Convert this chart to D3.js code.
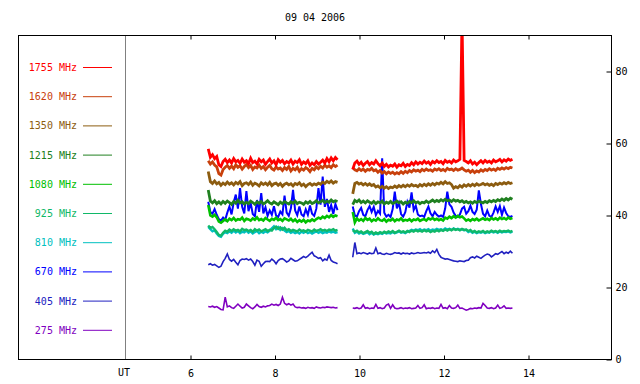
<!DOCTYPE html>
<html><head><meta charset="utf-8">
<script src="https://cdn.jsdelivr.net/npm/d3@7"></script>
<style>body{margin:0;background:#fff}svg{display:block}text{font-family:"DejaVu Sans Mono",monospace;font-size:10px}</style>
</head><body><svg id="c" width="640" height="384"></svg>
<script>
const title = "09 04 2006";
const freqLabels = ["1755 MHz","1620 MHz","1350 MHz","1215 MHz","1080 MHz","925 MHz","810 MHz","670 MHz","405 MHz","275 MHz"];
const colors = ["#ff0000","#c8400c","#8c5c10","#208020","#00c000","#10b868","#00c0c0","#0000ff","#2020c0","#8000c0"];
const xTicks = [6,8,10,12,14];
const yTicks = [0,20,40,60,80];
const seg1 = [6.42, 9.48];
const seg2 = [9.84, 13.62];

// segment 1 values
const f1755_a = [58.5,56.2,56.9,55.8,56.4,54.1,53.6,55.0,55.6,54.7,55.4,54.6,55.8,54.9,55.3,54.5,55.7,54.8,55.2,54.4,55.9,54.7,55.1,54.3,55.6,54.9,55.4,54.2,55.0,55.7,54.6,55.2,54.1,55.5,54.8,55.3,54.4,55.0,54.6,55.4,54.3,55.1,54.7,55.5,54.2,54.9,54.4,55.2,53.9,54.6,54.1,55.0,54.3,54.8,55.4,54.6,55.8,54.9,56.0,55.2,56.1,55.5];
const f1620_a = [55.2,54.3,54.9,54.0,53.5,51.6,51.2,52.8,53.4,53.9,53.1,53.7,53.0,54.1,53.4,53.8,52.9,53.6,54.2,53.3,53.9,52.8,53.5,53.2,54.0,53.1,53.6,52.7,53.4,53.9,53.0,52.6,53.5,52.9,53.2,52.5,53.3,52.8,53.6,52.4,53.1,52.7,53.4,52.3,53.0,52.6,53.3,52.9,52.2,53.1,52.7,53.5,53.0,53.7,53.2,54.0,53.4,53.8,53.3,54.1,53.6,54.0];
const f1350_a = [52.2,49.4,48.9,49.6,48.8,49.2,48.4,49.0,48.6,49.3,48.7,49.1,48.5,49.2,48.8,49.4,48.3,48.9,49.1,48.6,49.3,48.4,49.0,48.7,48.2,49.1,48.6,49.0,48.5,49.2,48.3,48.8,49.0,48.4,48.9,48.1,48.7,49.0,48.5,48.8,48.2,48.9,48.6,49.1,48.3,48.7,48.0,48.6,48.9,48.4,48.8,48.5,49.0,48.7,49.3,48.9,49.5,49.1,49.6,49.0,49.4,49.2];
const f1215_a = [47.1,44.0,43.5,44.1,43.3,43.8,43.2,43.9,43.4,44.0,43.6,43.1,43.9,43.4,44.2,43.5,43.8,43.2,43.7,43.3,44.0,43.6,43.1,43.8,43.4,43.9,43.2,43.6,44.1,43.5,43.2,43.8,43.4,43.0,43.7,43.3,43.9,43.5,43.2,43.8,43.4,44.0,43.3,43.7,43.5,43.1,43.8,43.4,43.9,43.3,43.6,44.1,43.5,43.8,44.2,43.6,44.0,43.7,44.3,43.8,44.1,43.9];
const f1080_a = [42.9,40.0,39.7,40.2,39.5,38.3,38.0,38.5,38.9,38.4,39.1,38.7,39.3,38.6,39.0,38.8,39.4,38.5,39.1,38.9,38.6,39.2,38.8,39.5,38.7,39.0,38.6,39.3,38.9,38.5,39.1,38.8,39.4,38.7,39.0,38.5,39.2,38.9,38.6,39.1,38.4,38.9,38.2,38.7,38.3,38.8,38.1,38.6,38.4,38.9,38.5,39.0,39.4,39.1,39.7,39.3,39.9,39.5,40.1,39.6,40.0,39.8];
const f925_a = [37.2,36.5,36.8,36.2,35.4,34.6,34.4,35.2,35.8,35.5,36.1,35.7,36.2,35.8,36.0,35.6,36.3,35.9,36.1,35.7,36.0,35.5,36.2,35.8,36.1,35.6,35.9,36.2,35.7,36.0,35.8,36.5,36.9,36.3,36.7,36.1,36.6,35.9,36.2,35.7,36.0,35.8,35.6,36.1,35.7,35.9,35.5,36.0,35.8,35.6,36.1,35.7,35.9,36.2,35.8,36.0,35.7,36.1,35.9,36.2,35.8,36.0];
const f810_a = [36.8,36.2,35.6,35.9,35.0,34.3,34.1,34.9,35.4,35.1,35.6,35.2,35.8,35.3,35.7,35.1,35.5,35.3,35.8,35.2,35.6,35.0,35.4,35.7,35.1,35.5,35.2,35.6,35.3,35.8,36.4,37.0,36.2,36.8,36.0,36.5,35.8,35.4,35.7,35.2,35.5,35.1,35.4,35.0,35.5,35.2,35.6,35.1,35.4,35.0,35.3,35.6,35.2,35.5,35.1,35.4,35.2,35.6,35.3,35.5,35.2,35.4];
const f670_a = [43.8,41.0,40.5,41.8,40.2,39.0,38.6,39.4,38.8,40.8,42.5,40.3,43.6,45.8,41.9,47.6,42.4,40.6,46.8,41.2,43.5,40.4,39.8,44.3,41.0,46.2,40.6,42.3,39.9,41.4,40.2,42.6,40.0,39.6,41.1,40.3,45.5,40.8,39.9,42.0,47.1,41.4,40.1,42.5,40.3,39.8,41.7,40.2,42.8,40.5,39.9,41.9,47.6,43.0,50.8,42.4,44.6,41.0,42.9,40.4,43.2,41.5];
const f405_a = [26.3,26.6,26.2,26.4,26.0,25.6,25.9,27.2,28.1,29.3,27.8,27.3,27.8,27.0,26.3,27.5,27.9,27.8,28.0,27.6,27.9,27.2,26.2,27.6,27.3,25.9,26.6,27.2,27.3,27.2,27.9,27.4,26.6,27.5,27.9,28.0,27.6,27.1,27.4,28.1,27.7,27.3,27.4,27.8,28.2,28.6,28.3,28.7,29.3,29.8,28.8,28.5,28.1,28.3,27.4,27.9,27.6,29.0,27.5,27.1,26.9,26.6];
const f275_a = [14.7,14.6,14.8,14.5,14.7,14.3,13.9,13.8,17.3,14.6,14.9,14.4,14.2,14.8,15.4,14.8,14.3,14.5,15.4,14.9,14.4,14.1,14.6,15.3,14.7,14.5,14.8,14.6,14.9,15.0,15.4,15.1,15.3,15.0,15.4,17.3,15.6,15.2,15.5,15.1,15.4,14.6,14.4,14.5,14.3,14.4,14.2,14.5,14.3,14.4,14.2,14.6,14.4,14.3,14.5,14.4,14.6,14.5,14.4,14.5,14.3,14.4];

// segment 2 values
const f1755_b = [52.8,54.6,55.1,54.2,54.8,53.9,54.5,55.0,54.1,54.7,54.3,55.2,54.4,53.8,54.6,53.6,54.2,53.5,54.0,53.7,54.3,53.4,54.1,53.8,54.5,53.6,54.2,53.9,54.7,54.1,54.9,54.3,54.8,54.4,55.1,54.5,54.9,54.2,55.0,54.6,55.2,54.7,55.0,54.4,55.3,54.8,55.1,54.6,55.4,54.9,55.2,55.6,95,55.3,55.0,54.6,55.2,54.3,54.8,54.1,54.7,55.2,54.6,55.3,54.8,55.1,54.6,55.4,54.9,55.2,55.6,54.9,55.5,55.1,55.7,55.3,55.6];
const f1620_b = [53.3,52.7,52.4,53.0,52.5,52.9,52.3,52.8,52.6,53.1,52.4,52.7,52.0,52.5,51.8,52.2,51.6,52.1,51.7,52.0,51.5,51.9,51.6,52.2,51.7,52.3,51.9,52.5,52.1,52.7,52.3,52.6,52.2,52.8,52.4,52.9,52.5,52.7,52.3,52.9,52.6,53.0,52.5,52.8,52.4,53.1,52.7,52.9,52.5,53.0,52.6,52.8,53.2,52.7,52.3,52.6,52.0,52.5,51.9,52.4,52.1,52.7,52.3,52.8,52.5,53.0,52.6,52.9,52.5,53.1,52.8,53.2,52.9,53.3,53.0,53.4,53.2];
const f1350_b = [46.0,48.9,49.2,48.7,49.0,48.5,48.9,48.4,48.8,48.3,48.6,47.9,48.2,47.7,48.1,47.6,48.0,47.5,47.9,47.7,48.2,47.8,48.3,47.9,48.4,48.0,48.5,48.1,48.6,48.2,48.4,48.0,48.6,48.2,48.7,48.3,48.8,48.4,48.9,48.5,49.0,48.7,49.2,48.8,49.4,48.9,49.1,48.6,47.6,48.0,47.7,48.3,47.9,48.5,48.1,48.6,48.2,48.7,48.3,48.8,48.4,48.6,48.9,48.5,48.8,48.4,48.7,48.3,48.9,48.6,49.0,48.7,49.1,48.8,49.2,48.9,49.1];
const f1215_b = [43.0,44.2,43.8,44.3,43.6,44.0,43.5,44.1,43.7,43.4,43.9,43.3,43.8,43.5,44.0,43.2,43.7,43.4,43.9,43.3,43.6,44.0,43.5,43.8,43.2,43.7,43.4,43.9,43.6,44.1,43.5,43.8,43.3,43.7,43.5,44.0,43.6,43.9,44.3,43.8,44.2,43.9,44.4,44.0,44.5,44.1,44.3,43.9,44.4,44.0,44.2,43.8,44.1,43.6,43.9,43.5,43.8,43.4,43.9,43.6,44.0,43.7,43.5,43.9,43.6,44.1,43.8,44.2,43.9,44.4,44.1,44.6,44.2,44.7,44.3,44.8,44.5];
const f1080_b = [41.0,38.1,39.2,38.6,39.0,38.5,39.3,38.8,39.1,38.4,38.9,38.6,39.2,38.7,38.5,39.0,38.3,38.8,38.6,39.1,38.4,38.9,38.7,39.2,38.5,38.8,38.6,39.0,38.4,38.9,38.7,39.1,38.5,38.8,39.0,38.6,39.2,38.9,39.3,38.8,39.1,38.7,39.0,38.6,39.4,39.1,39.7,39.3,39.8,39.4,39.9,39.5,39.7,39.2,38.6,38.9,38.5,39.0,38.7,39.1,38.6,38.9,39.2,38.8,39.1,38.7,39.3,38.9,39.2,38.8,39.4,39.0,39.3,38.9,39.4,39.1,39.3];
const f925_b = [35.9,35.5,35.8,35.3,35.6,35.1,35.4,35.7,35.2,35.5,34.9,35.3,35.0,35.4,35.1,35.5,35.2,35.6,35.3,35.7,35.2,35.5,35.8,35.4,35.6,35.3,35.7,35.4,35.8,35.5,35.9,35.6,35.8,35.5,35.9,35.6,35.8,35.4,35.7,35.5,35.9,35.6,36.0,35.7,36.1,35.8,36.2,35.9,36.3,36.0,36.2,35.9,36.3,36.0,36.1,35.7,36.0,35.4,35.7,35.3,35.6,35.4,35.7,35.3,35.6,35.4,35.8,35.5,35.7,35.4,35.8,35.5,35.7,35.6,35.8,35.5,35.7];
const f810_b = [36.4,35.2,35.5,35.0,35.3,34.9,35.1,35.4,34.8,35.2,34.7,35.0,34.8,35.1,34.9,35.3,35.0,35.2,35.0,35.4,35.1,35.3,35.6,35.2,35.4,35.1,35.5,35.7,36.0,35.8,36.1,35.9,36.2,35.8,36.1,35.9,36.2,35.8,36.1,35.9,36.3,36.0,36.2,35.9,36.4,36.1,36.3,36.0,36.4,36.1,36.3,36.0,36.2,35.9,36.0,35.4,35.7,35.2,35.5,35.1,35.4,35.2,35.5,35.1,35.4,35.2,35.6,35.3,35.5,35.2,35.6,35.3,35.5,35.4,35.6,35.3,35.5];
const f670_b = [42.5,40.0,39.7,41.2,42.1,40.2,39.8,41.5,42.6,41.0,42.4,40.1,41.3,40.5,55.9,40.8,39.7,40.2,39.6,41.8,46.6,42.0,43.5,40.4,39.7,40.9,43.8,42.2,46.4,41.5,42.7,40.3,39.8,40.0,39.6,41.2,42.5,40.6,39.8,41.0,40.2,39.7,40.0,39.6,42.0,46.6,43.1,42.4,40.8,39.9,39.6,40.3,41.9,42.4,40.5,41.2,42.7,41.0,40.4,41.6,47.0,43.2,40.5,39.8,41.4,39.9,39.6,40.8,42.5,41.0,42.6,40.2,42.2,40.7,39.8,39.6,39.9];
const f405_b = [28.4,32.5,29.4,29.6,29.4,29.7,29.5,29.3,29.6,29.4,29.5,31.0,29.4,29.6,29.3,29.2,29.5,29.3,29.2,29.4,29.7,29.5,29.6,29.3,29.6,29.4,29.5,29.3,29.6,29.4,29.5,29.7,29.5,29.6,29.7,29.6,29.8,29.5,30.2,29.7,30.6,29.2,28.4,28.1,27.9,28.0,27.8,27.6,27.4,27.3,27.2,27.4,27.3,27.2,27.5,27.6,28.3,28.5,28.2,28.7,28.4,28.1,28.6,29.0,29.3,29.1,28.5,28.9,29.4,29.2,29.6,30.0,29.4,29.8,29.5,30.1,29.5];
const f275_b = [14.3,14.2,14.4,14.1,14.3,15.2,14.2,14.4,14.1,14.3,14.2,15.3,14.2,14.4,14.1,14.3,15.1,15.4,14.2,15.2,14.3,14.1,14.2,14.4,14.1,14.3,14.2,14.4,14.1,14.2,14.3,15.0,14.2,14.4,15.2,14.1,14.3,14.2,14.4,14.1,14.3,14.2,15.3,14.2,14.4,14.1,15.0,14.3,14.2,14.4,15.1,14.2,14.3,14.0,13.7,13.9,14.2,14.1,14.3,14.2,14.4,14.3,15.6,15.0,14.3,14.2,14.4,14.1,14.3,15.1,14.2,14.4,14.9,14.2,14.3,14.2,14.3];

const series = [
  [f1755_a,f1755_b],[f1620_a,f1620_b],[f1350_a,f1350_b],[f1215_a,f1215_b],[f1080_a,f1080_b],
  [f925_a,f925_b],[f810_a,f810_b],[f670_a,f670_b],[f405_a,f405_b],[f275_a,f275_b]
];
const widths = [2.8,2.8,2.8,2.8,2.6,2.4,2.4,2.0,1.6,1.6];

const svg = d3.select("#c");
const L = 18.5, R = 611.5, T = 35.5, B = 359.5;
const x = d3.scaleLinear().domain([6,14]).range([190.5,528.5]);
const y = d3.scaleLinear().domain([0,90]).range([B,T]);

svg.append("defs").append("clipPath").attr("id","clip")
  .append("rect").attr("x",L).attr("y",T).attr("width",R-L).attr("height",B-T);

// title
svg.append("text").attr("x",315).attr("y",21).attr("text-anchor","middle").attr("fill","#000").text(title);

// UT divider
svg.append("line").attr("x1",125.5).attr("x2",125.5).attr("y1",T).attr("y2",B).attr("stroke","#808080");
svg.append("text").attr("x",124).attr("y",376).attr("text-anchor","middle").text("UT");

// axes
const gb = svg.append("g").attr("transform",`translate(0,${B})`)
  .call(d3.axisBottom(x).tickValues(xTicks).tickSizeInner(-4).tickSizeOuter(0).tickPadding(10).tickFormat(d3.format("d")));
const gt = svg.append("g").attr("transform",`translate(0,${T})`)
  .call(d3.axisTop(x).tickValues(xTicks).tickSizeInner(-4).tickSizeOuter(0).tickFormat(""));
const gr = svg.append("g").attr("transform",`translate(${R},0)`)
  .call(d3.axisRight(y).tickValues(yTicks).tickSizeInner(-5).tickSizeOuter(0).tickPadding(4));
[gb,gt,gr].forEach(g=>{
  g.select(".domain").remove();
  g.attr("font-family",null).attr("font-size",null);
  g.selectAll("line").attr("stroke","#000");
  g.selectAll("text").attr("fill","#000");
});

// data (drawn low freq first)
const line = d3.line().x(d=>x(d[0])).y(d=>y(d[1]));
const plot = svg.append("g").attr("clip-path","url(#clip)");
for (let k = series.length-1; k >= 0; k--) {
  [seg1, seg2].forEach((seg, s) => {
    const vals = series[k][s];
    const n = vals.length;
    const pts = vals.map((v,i)=>[seg[0] + (seg[1]-seg[0])*i/(n-1), v]);
    plot.append("path").datum(pts).attr("d",line).attr("fill","none")
      .attr("stroke",colors[k]).attr("stroke-width",widths[k]).attr("stroke-linejoin","miter");
  });
}

// legend
freqLabels.forEach((lab,k)=>{
  const ly = 67.5 + k*29.2;
  svg.append("text").attr("x",77).attr("y",ly+3.5).attr("text-anchor","end").attr("fill",colors[k]).text(lab);
  svg.append("line").attr("x1",83).attr("x2",112).attr("y1",ly).attr("y2",ly).attr("stroke",colors[k]).attr("stroke-width",1);
});

// frame
svg.append("rect").attr("x",L).attr("y",T).attr("width",R-L).attr("height",B-T)
  .attr("fill","none").attr("stroke","#000").attr("stroke-width",1);
</script></body></html>
